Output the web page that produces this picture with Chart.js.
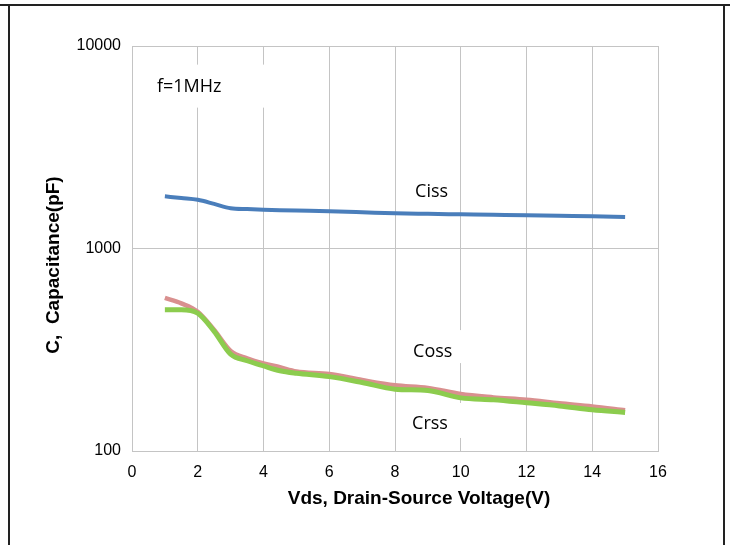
<!DOCTYPE html>
<html>
<head>
<meta charset="utf-8">
<script src="https://cdn.jsdelivr.net/npm/chart.js@4"></script>
<style>
  body { margin: 0; background: #fff; }
  canvas { display: block; }
</style>
</head>
<body>
<canvas id="capChart" width="730" height="545"></canvas>
<script>
// -------------------- Data --------------------
const vds  = [1, 1.5, 2, 2.5, 3, 3.5, 4, 4.5, 5, 6, 7, 8, 9, 10, 11, 12, 13, 14, 15];
const ciss = [1810, 1775, 1740, 1660, 1580, 1565, 1555, 1547, 1540, 1527, 1510, 1492, 1483, 1475, 1467, 1459, 1450, 1442, 1431];
const coss = [570, 536, 487, 396, 312, 287, 271, 259, 247, 240, 224, 211, 205, 191, 184, 179, 172, 166, 159];
const crss = [499, 499, 479, 390, 301, 279, 263, 249, 242, 233, 218, 202, 199, 183, 179, 173, 167, 160, 155];

const xTicks = [0, 2, 4, 6, 8, 10, 12, 14, 16];
const yTicks = [100, 1000, 10000];

// text notes placed in data coordinates (box = white patch behind text, px offsets)
const notes = [
  { text: "f=1MHz", x: 0.76, y: 6300, box: [-7, -22, 113, 21] },
  { text: "Ciss",   x: 8.61, y: 1900, box: null },
  { text: "Coss",   x: 8.55, y: 308,  box: [-13, -22, 57, 11] },
  { text: "Crss",   x: 8.52, y: 136,  box: [-12, -21, 58, 14] },
];

const GRID = "#c4c4c4";

function toPoints(ys) {
  return vds.map((x, i) => ({ x: x, y: ys[i] }));
}

// -------------------- Extra drawing --------------------
const extras = {
  id: "extras",
  beforeDraw(chart) {
    const c = chart.ctx;
    c.save();
    c.fillStyle = "#fff";
    c.fillRect(0, 0, chart.width, chart.height);
    // outer frame of the datasheet cell
    c.strokeStyle = "#222";
    c.lineWidth = 2;
    c.beginPath();
    c.moveTo(0, 5); c.lineTo(730, 5);
    c.moveTo(9, 5); c.lineTo(9, 545);
    c.moveTo(724, 5); c.lineTo(724, 545);
    c.stroke();
    c.restore();
  },
  beforeDatasetsDraw(chart) {
    const c = chart.ctx;
    const sx = chart.scales.x, sy = chart.scales.y;
    c.save();
    c.font = "18px 'Open Sans'";
    c.textBaseline = "middle";
    c.textAlign = "left";
    notes.forEach(n => {
      const px = sx.getPixelForValue(n.x);
      const py = sy.getPixelForValue(n.y);
      if (n.box) {
        c.fillStyle = "#fff";
        c.fillRect(px + n.box[0], py + n.box[1], n.box[2] - n.box[0], n.box[3] - n.box[1]);
      }
      c.fillStyle = "#000";
      c.fillText(n.text, px, py);
    });
    c.restore();
  },
  afterDraw(chart) {
    const c = chart.ctx;
    c.save();
    c.fillStyle = "#000";
    c.font = "bold 19px 'Liberation Sans', Arial, sans-serif";
    c.textAlign = "center";
    c.textBaseline = "middle";
    c.fillText("Vds, Drain-Source Voltage(V)", 419, 499);
    c.translate(54, 265);
    c.rotate(-Math.PI / 2);
    c.fillText("C,  Capacitance(pF)", 0, 0);
    c.restore();
  }
};

// -------------------- Chart --------------------
const ctx = document.getElementById("capChart").getContext("2d");
const chart = new Chart(ctx, {
  type: "line",
  data: {
    datasets: [
      { label: "Ciss", data: toPoints(ciss), borderColor: "#4a7ebb", borderWidth: 4, order: 0 },
      { label: "Crss", data: toPoints(crss), borderColor: "#8ccc4e", borderWidth: 5, order: 1 },
      { label: "Coss", data: toPoints(coss), borderColor: "#d9908f", borderWidth: 4.5, order: 2 },
    ],
  },
  options: {
    responsive: false,
    animation: false,
    layout: { padding: { top: 46, right: 72, left: 0, bottom: 0 } },
    elements: {
      point: { radius: 0 },
      line: { cubicInterpolationMode: "monotone", fill: false, borderCapStyle: "butt" },
    },
    plugins: { legend: { display: false }, tooltip: { enabled: false } },
    scales: {
      x: {
        type: "linear",
        min: 0, max: 16,
        afterBuildTicks: s => { s.ticks = xTicks.map(v => ({ value: v })); },
        afterFit: s => { s.height = 94; },
        grid: { color: GRID, drawTicks: false },
        border: { color: GRID },
        ticks: {
          color: "#000", padding: 12,
          font: { family: "'Liberation Sans', Arial, sans-serif", size: 16 },
        },
      },
      y: {
        type: "logarithmic",
        min: 100, max: 10000,
        afterBuildTicks: s => { s.ticks = yTicks.map(v => ({ value: v })); },
        afterFit: s => { s.width = 132; },
        grid: { color: GRID, drawTicks: false },
        border: { color: GRID },
        ticks: {
          color: "#000", padding: 11,
          callback: v => String(v),
          font: { family: "'Liberation Sans', Arial, sans-serif", size: 16 },
        },
      },
    },
  },
  plugins: [extras],
});
</script>
</body>
</html>
